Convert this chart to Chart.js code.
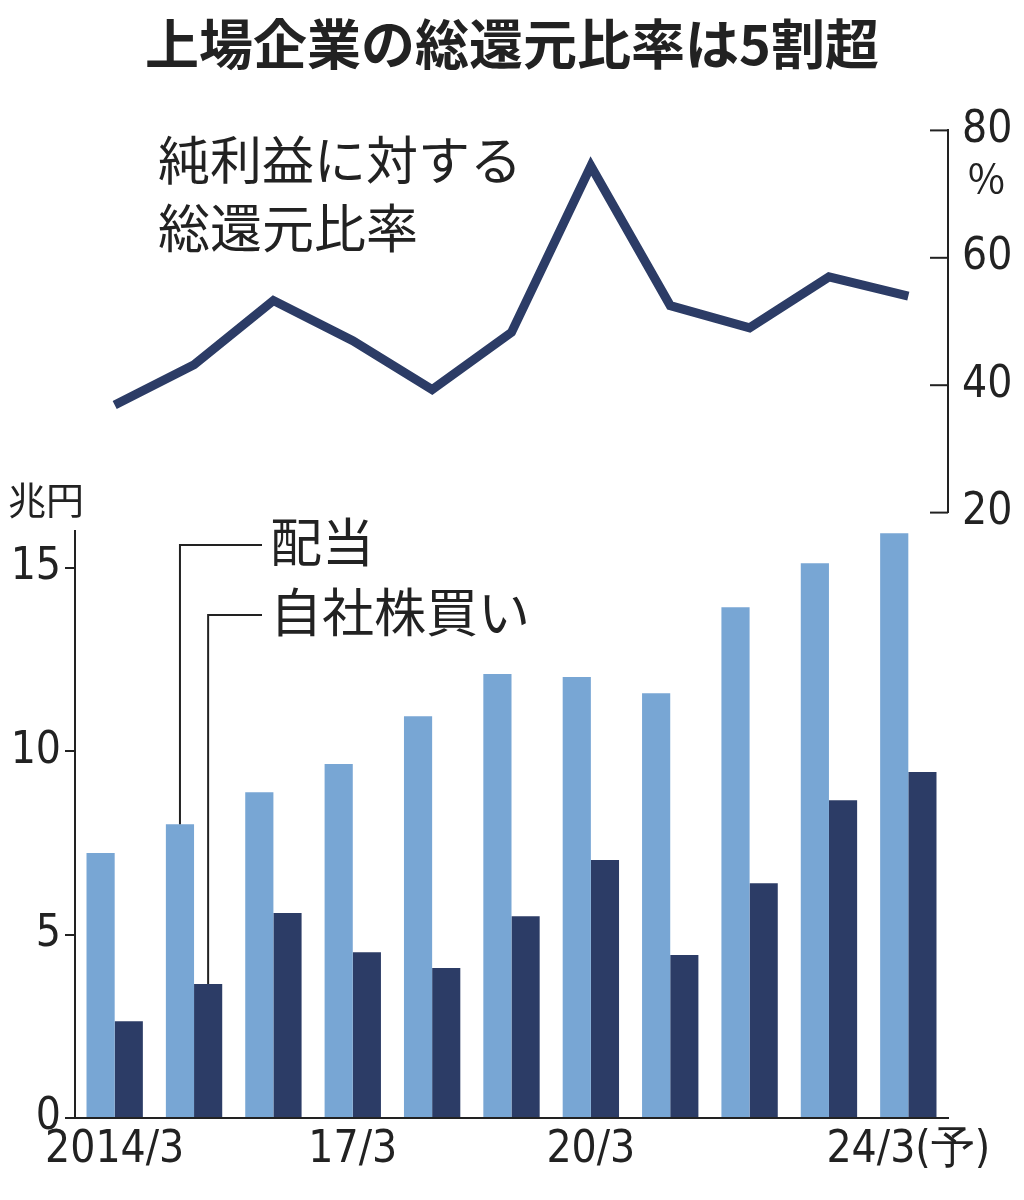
<!DOCTYPE html>
<html>
<head>
<meta charset="utf-8">
<script src="https://cdn.jsdelivr.net/npm/chart.js@4"></script>
<style>
body { margin:0; background:#fff; width:1024px; height:1200px; position:relative; overflow:hidden; }
#title { position:absolute; left:0; top:2px; width:1024px; text-align:center; font:bold 54px "Noto Sans CJK JP"; color:#222; }
#lineBox { position:absolute; left:0; top:90px; width:1024px; height:463px; }
#barBox { position:absolute; left:0; top:480px; width:1024px; height:710px; }
</style>
</head>
<body>
<div id="title">上場企業の総還元比率は5割超</div>
<div id="lineBox"><canvas id="lineChart"></canvas></div>
<div id="barBox"><canvas id="barChart"></canvas></div>
<script>
var years = ['2014/3','','','17/3','','','20/3','','','','24/3(予)'];
var ratio = [36.9, 43.2, 53.3, 47.0, 39.3, 48.3, 74.4, 52.5, 49.0, 57.0, 54.0];
var dividends = [7.22, 8.01, 8.88, 9.65, 10.95, 12.1, 12.02, 11.58, 13.92, 15.12, 15.94];
var buybacks = [2.64, 3.65, 5.59, 4.52, 4.09, 5.5, 7.03, 4.44, 6.4, 8.66, 9.43];
var ratioTicks = [20, 40, 60, 80];

var lightBlue = '#78a6d4';
var navy = '#2c3c66';
var ink = '#222';
var numFont = '"Liberation Sans Narrow", "DejaVu Sans Condensed", sans-serif';
var jpFont = '"Noto Sans CJK JP"';

Chart.defaults.animation = false;
Chart.defaults.color = ink;

var lineDeco = {
  id: 'lineDeco',
  afterDraw: function(chart) {
    var ctx = chart.ctx;
    var y = chart.scales.y;
    var a = chart.chartArea;
    ctx.save();
    ctx.strokeStyle = ink;
    ctx.lineWidth = 2;
    ratioTicks.forEach(function(v) {
      var py = y.getPixelForValue(v);
      ctx.beginPath(); ctx.moveTo(a.right - 18, py); ctx.lineTo(a.right, py); ctx.stroke();
    });
    ctx.fillStyle = ink;
    ctx.font = '52px ' + jpFont;
    ctx.textBaseline = 'middle';
    ctx.fillText('純利益に対する', 158, 70);
    ctx.fillText('総還元比率', 158, 138);
    ctx.font = '40px ' + jpFont;
    ctx.fillText('%', 968, 88);
    ctx.restore();
  }
};

new Chart(document.getElementById('lineChart'), {
  type: 'line',
  data: { labels: years, datasets: [{ data: ratio, borderColor: navy, borderWidth: 9, pointRadius: 0, tension: 0, borderJoinStyle: 'miter' }] },
  options: {
    responsive: true, maintainAspectRatio: false,
    layout: { padding: { left: 75, top: 12, bottom: 0, right: 0 } },
    plugins: { legend: { display: false }, tooltip: { enabled: false } },
    scales: {
      x: { offset: true, display: false },
      y: {
        position: 'right', min: 20, max: 80,
        afterFit: function(s) { s.width = 76; },
        afterBuildTicks: function(s) { s.ticks = ratioTicks.map(function(v) { return { value: v }; }); },
        grid: { display: false, drawTicks: false },
        border: { display: true, color: ink, width: 2 },
        ticks: { padding: 14, font: { size: 44, family: numFont }, color: ink }
      }
    }
  },
  plugins: [lineDeco]
});

var barDeco = {
  id: 'barDeco',
  afterDraw: function(chart) {
    var ctx = chart.ctx;
    var b1 = chart.getDatasetMeta(0).data[1];
    var b2 = chart.getDatasetMeta(1).data[1];
    ctx.save();
    ctx.strokeStyle = ink;
    ctx.lineWidth = 2;
    ctx.beginPath(); ctx.moveTo(b1.x, b1.y); ctx.lineTo(b1.x, 65); ctx.lineTo(262, 65); ctx.stroke();
    ctx.beginPath(); ctx.moveTo(b2.x, b2.y); ctx.lineTo(b2.x, 135); ctx.lineTo(262, 135); ctx.stroke();
    ctx.fillStyle = ink;
    ctx.font = '52px ' + jpFont;
    ctx.textBaseline = 'middle';
    ctx.fillText('配当', 270, 62);
    ctx.fillText('自社株買い', 270, 132);
    ctx.font = '38px ' + jpFont;
    ctx.fillText('兆円', 8, 20);
    ctx.restore();
  }
};

new Chart(document.getElementById('barChart'), {
  type: 'bar',
  data: {
    labels: years,
    datasets: [
      { label: '配当', data: dividends, backgroundColor: lightBlue, categoryPercentage: 0.71, barPercentage: 1 },
      { label: '自社株買い', data: buybacks, backgroundColor: navy, categoryPercentage: 0.71, barPercentage: 1 }
    ]
  },
  options: {
    responsive: true, maintainAspectRatio: false,
    layout: { padding: { left: 0, top: 51, right: 76, bottom: 0 } },
    plugins: { legend: { display: false }, tooltip: { enabled: false } },
    scales: {
      x: {
        afterFit: function(s) { s.height = 72; },
        grid: { display: false, drawTicks: false },
        border: { display: true, color: ink, width: 2 },
        ticks: { autoSkip: false, maxRotation: 0, padding: 6, font: { size: 44, family: numFont }, color: ink }
      },
      y: {
        min: 0, max: 16,
        afterFit: function(s) { s.width = 75; },
        afterBuildTicks: function(s) { s.ticks = [0, 5, 10, 15].map(function(v) { return { value: v }; }); },
        grid: { drawOnChartArea: false, tickLength: 10, color: ink, lineWidth: 2 },
        border: { display: true, color: ink, width: 2 },
        ticks: { padding: 4, font: { size: 44, family: numFont }, color: ink }
      }
    }
  },
  plugins: [barDeco]
});
</script>
</body>
</html>
